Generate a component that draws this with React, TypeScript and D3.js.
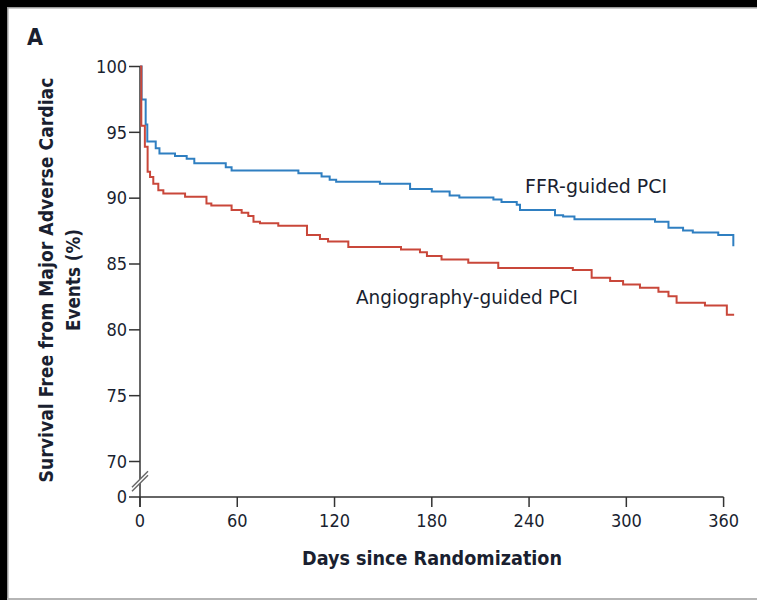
import React from "react";
import * as d3 from "d3";

const ffrDays = [0, 1, 3.5, 4.5, 9.7, 12, 21.6, 28.8, 33.5, 52.9, 56.5, 97.7, 112, 117, 121, 148, 166.6, 180, 191, 197, 218, 223, 232.4, 234.4, 256, 261, 268, 317.7, 326, 335, 341, 356.7, 366];
const ffrSurv = [100, 97.5, 95.6, 94.3, 93.8, 93.4, 93.2, 93.0, 92.65, 92.35, 92.1, 91.9, 91.65, 91.4, 91.25, 91.1, 90.7, 90.5, 90.2, 90.05, 89.9, 89.7, 89.5, 89.1, 88.7, 88.6, 88.4, 88.2, 87.75, 87.55, 87.4, 87.2, 86.35];

const angioDays = [0, 0.8, 3, 4.7, 6.2, 8.2, 11.3, 14.4, 27.8, 41, 44, 56.5, 62.7, 66.8, 70, 74, 85.3, 103, 111, 116, 128.5, 161, 172.7, 177, 186, 202.5, 221, 267, 278.6, 290, 298, 308.4, 319.8, 326, 331, 348.5, 362, 366.5];
const angioSurv = [100, 95.5, 93.9, 92.0, 91.6, 91.1, 90.6, 90.35, 90.1, 89.6, 89.45, 89.1, 88.9, 88.65, 88.2, 88.1, 87.9, 87.2, 86.9, 86.7, 86.3, 86.1, 85.9, 85.6, 85.35, 85.1, 84.7, 84.55, 83.95, 83.7, 83.45, 83.2, 82.9, 82.55, 82.05, 81.85, 81.15, 81.15];

const xTicks = [0, 60, 120, 180, 240, 300, 360];
const yTicks = [0, 70, 75, 80, 85, 90, 95, 100];

const seriesNames = ["FFR-guided PCI", "Angiography-guided PCI"];
const panelLabel = "A";
const xTitle = "Days since Randomization";
const yTitle1 = "Survival Free from Major Adverse Cardiac";
const yTitle2 = "Events (%)";

const FONT = "'Liberation Sans Narrow', 'DejaVu Sans Condensed', 'Open Sans', sans-serif";
const TEXT = "#1a1f30";
const AXIS = "#333";
const BLUE = "#2f7fc1";
const RED = "#c9473a";

export default function App() {
  const W = 757, H = 600;
  const x = d3.scaleLinear().domain([0, 360]).range([140, 723.6]);
  const y = d3.scaleLinear().domain([0, 70, 100]).range([497, 461.5, 66.5]);

  const line = d3
    .line<[number, number]>()
    .x((d) => x(d[0]))
    .y((d) => y(d[1]))
    .curve(d3.curveStepAfter);

  const ffr: [number, number][] = ffrDays.map((d, i) => [d, ffrSurv[i]]);
  const angio: [number, number][] = angioDays.map((d, i) => [d, angioSurv[i]]);

  const x0 = x(0);
  const yb = y(0);
  const ym = (yb + y(70)) / 2;

  return (
    <svg
      width={W}
      height={H}
      style={{ position: "absolute", left: 0, top: 0, background: "#fff" }}
      fontFamily={FONT}
    >
      <rect x={0} y={0} width={W} height={H} fill="#fff" />
      {/* frame */}
      <rect x={0} y={0} width={W} height={7} fill="#000" />
      <rect x={0} y={0} width={7} height={H} fill="#000" />
      <rect x={7} y={7} width={W - 7} height={1.5} fill="#9a9a9a" />
      <rect x={7} y={7} width={1.5} height={H - 7} fill="#9a9a9a" />
      <rect x={7} y={598} width={W - 7} height={2} fill="#b5b5b5" />

      <text x={27} y={45} fontSize={23} fontWeight="bold" fill={TEXT}>
        {panelLabel}
      </text>

      {/* y axis */}
      <line x1={x0} x2={x0} y1={y(100)} y2={yb + 10} stroke={AXIS} strokeWidth={1.5} />
      {yTicks.map((t) => (
        <g key={t}>
          <line x1={x0 - 11} x2={x0} y1={y(t)} y2={y(t)} stroke={AXIS} strokeWidth={1.5} />
          <text x={x0 - 13} y={y(t)} dy="0.35em" textAnchor="end" fontSize={18} fill={TEXT}>
            {t}
          </text>
        </g>
      ))}
      {/* axis break */}
      <polygon
        points={`${x0 - 8},${ym + 8} ${x0 + 8},${ym - 8} ${x0 + 8},${ym - 4} ${x0 - 8},${ym + 12}`}
        fill="#fff"
      />
      <line x1={x0 - 8} x2={x0 + 8} y1={ym + 8} y2={ym - 8} stroke="#666" strokeWidth={1.5} />
      <line x1={x0 - 8} x2={x0 + 8} y1={ym + 12} y2={ym - 4} stroke="#666" strokeWidth={1.5} />

      {/* x axis */}
      <line x1={x0} x2={x(360)} y1={yb} y2={yb} stroke={AXIS} strokeWidth={1.5} />
      {xTicks.map((t) => (
        <g key={t}>
          <line x1={x(t)} x2={x(t)} y1={yb} y2={yb + 10} stroke={AXIS} strokeWidth={1.5} />
          <text x={x(t)} y={yb + 24} dy="0.35em" textAnchor="middle" fontSize={18} fill={TEXT}>
            {t}
          </text>
        </g>
      ))}

      {/* curves */}
      <path d={line(ffr) || ""} fill="none" stroke={BLUE} strokeWidth={2} />
      <path d={line(angio) || ""} fill="none" stroke={RED} strokeWidth={2} />

      {/* series labels */}
      <text x={525} y={193} fontSize={19} fill={TEXT} textLength={142} lengthAdjust="spacingAndGlyphs">
        {seriesNames[0]}
      </text>
      <text x={356} y={304} fontSize={19} fill={TEXT} textLength={222} lengthAdjust="spacingAndGlyphs">
        {seriesNames[1]}
      </text>

      {/* titles */}
      <text
        x={432}
        y={565}
        textAnchor="middle"
        fontSize={19}
        fontWeight="bold"
        fill={TEXT}
        textLength={260}
        lengthAdjust="spacingAndGlyphs"
      >
        {xTitle}
      </text>
      <text
        transform={`translate(53,280) rotate(-90)`}
        textAnchor="middle"
        fontSize={19}
        fontWeight="bold"
        fill={TEXT}
        textLength={405}
        lengthAdjust="spacingAndGlyphs"
      >
        {yTitle1}
      </text>
      <text
        transform={`translate(80,280) rotate(-90)`}
        textAnchor="middle"
        fontSize={19}
        fontWeight="bold"
        fill={TEXT}
        textLength={102}
        lengthAdjust="spacingAndGlyphs"
      >
        {yTitle2}
      </text>
    </svg>
  );
}
